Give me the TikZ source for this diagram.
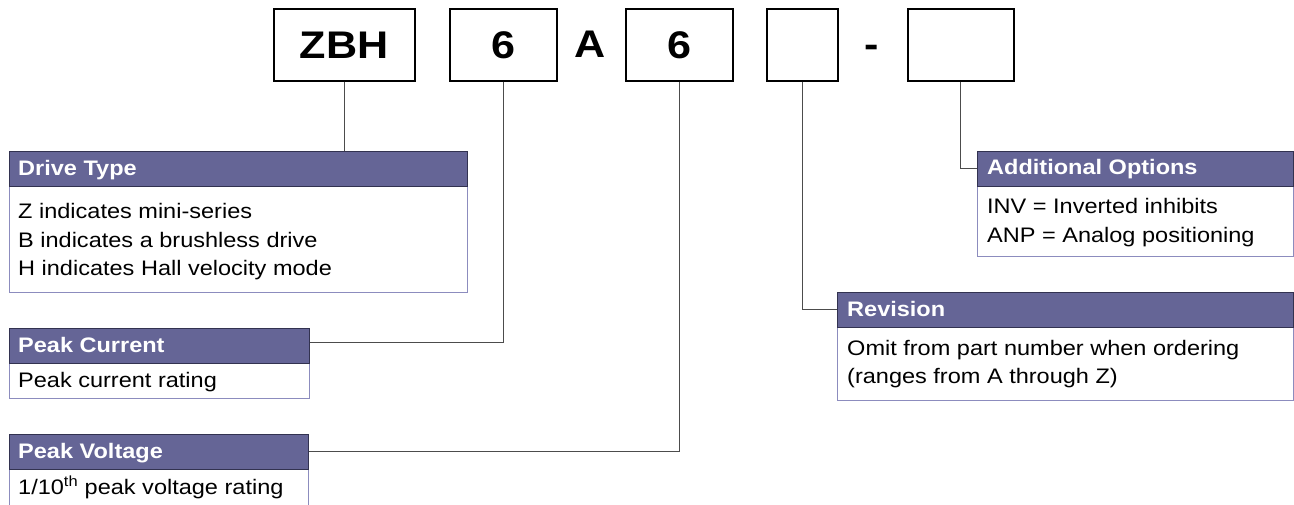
\documentclass[tikz,border=0pt]{standalone}
\usepackage{fontspec}
\setmainfont[FakeStretch=1.12]{Liberation Sans}
\definecolor{hdrcol}{RGB}{101,101,150}
\definecolor{hdrline}{RGB}{50,50,80}
\definecolor{bodyline}{RGB}{140,140,190}
\begin{document}
\begin{tikzpicture}[x=1pt,y=-1pt,
  topbox/.style={draw=black,line width=1.6pt,fill=white,anchor=north west,inner sep=0pt,
    font=\bfseries\fontsize{38.5}{44}\selectfont,text height=27.5pt,text depth=0pt,minimum height=72pt},
  toptext/.style={inner sep=0pt,font=\bfseries\fontsize{38.5}{44}\selectfont,text height=27.5pt,text depth=0pt},
  hdr/.style={fill=hdrcol,draw=hdrline,line width=0.8pt,anchor=north west,inner sep=0pt,minimum height=35pt},
  bodybox/.style={fill=white,draw=bodyline,line width=0.8pt,anchor=north west,inner sep=0pt},
  htext/.style={text=white,font=\bfseries\fontsize{21}{24}\selectfont,anchor=base west,inner sep=0pt},
  btext/.style={text=black,font=\fontsize{21}{24}\selectfont,anchor=base west,inner sep=0pt},
  conn/.style={draw=black!70,line width=0.9pt}]
\useasboundingbox (0,0) rectangle (1294,504);

% top part-number boxes
\node[topbox,minimum width=141pt] (b1) at (273,8) {ZBH};
\node[topbox,minimum width=107pt] (b2) at (449,8) {6};
\node[toptext] (ta) at (590,44) {A};
\node[topbox,minimum width=107pt] (b3) at (625,8) {6};
\node[topbox,minimum width=71pt] (b4) at (766,8) {};
\node[toptext] (td) at (872,44) {-};
\node[topbox,minimum width=106pt] (b5) at (907,8) {};

% Drive Type
\node[bodybox,minimum width=458pt,minimum height=106pt] (dtb) at (9,186) {};
\node[hdr,minimum width=458pt] (dth) at (9,151) {};
\node[htext] (dtt) at (18,175) {Drive Type};
\node[btext] (dt1) at (18,218) {Z indicates mini-series};
\node[btext] (dt2) at (18,247) {B indicates a brushless drive};
\node[btext] (dt3) at (18,275.5) {H indicates Hall velocity mode};

% Peak Current
\node[bodybox,minimum width=300pt,minimum height=35pt] (pcb) at (9,363) {};
\node[hdr,minimum width=300pt] (pch) at (9,328) {};
\node[htext] (pct) at (18,352.5) {Peak Current};
\node[btext] (pc1) at (18,387) {Peak current rating};

% Peak Voltage
\node[bodybox,minimum width=299pt,minimum height=38pt] (pvb) at (9,469) {};
\node[hdr,minimum width=299pt,minimum height=35pt] (pvh) at (9,434) {};
\node[htext] (pvt) at (18,458) {Peak Voltage};
\node[btext] (pv1) at (18,494) {1/10\textsuperscript{th} peak voltage rating};

% Additional Options
\node[bodybox,minimum width=316pt,minimum height=70pt] (aob) at (977,186) {};
\node[hdr,minimum width=316pt] (aoh) at (977,151) {};
\node[htext] (aot) at (987,174) {Additional Options};
\node[btext] (ao1) at (987,213) {INV = Inverted inhibits};
\node[btext] (ao2) at (987,242) {ANP = Analog positioning};

% Revision
\node[bodybox,minimum width=456pt,minimum height=73pt] (rvb) at (837,327) {};
\node[hdr,minimum width=456pt] (rvh) at (837,292) {};
\node[htext] (rvt) at (847,316.5) {Revision};
\node[btext] (rv1) at (847,355) {Omit from part number when ordering};
\node[btext] (rv2) at (847,383) {(ranges from A through Z)};

% connectors
\draw[conn] (b1.south) -- (b1.south |- dth.north);
\draw[conn] (b2.south) |- ([yshift=3.5pt]pch.east);
\draw[conn] (b3.south) |- (pvh.east);
\draw[conn] (b4.south) |- (rvh.west);
\draw[conn] (b5.south) |- (aoh.west);
\end{tikzpicture}
\end{document}
